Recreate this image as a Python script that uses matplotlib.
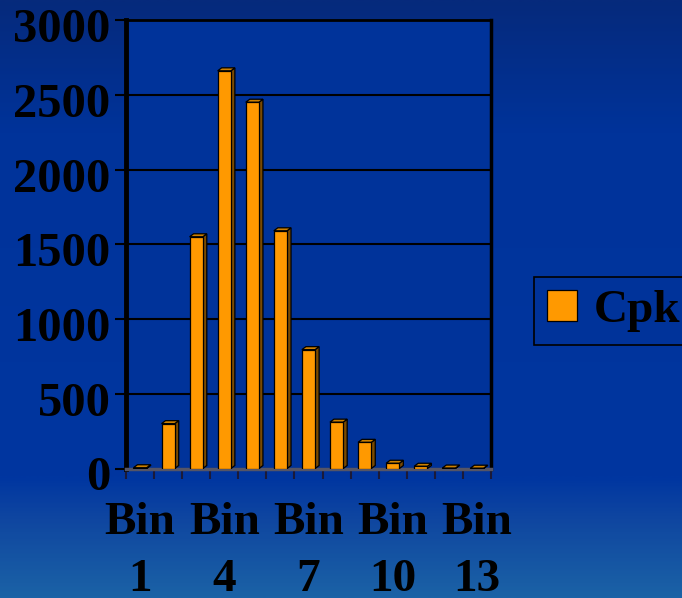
import numpy as np
import matplotlib
matplotlib.use("Agg")
import matplotlib.pyplot as plt
from matplotlib.colors import LinearSegmentedColormap
from matplotlib.patches import Polygon
from matplotlib.transforms import ScaledTranslation

# Data
categories = [f"Bin {i}" for i in range(1, 14)]
cpk_counts = [5, 300, 1550, 2660, 2450, 1590, 795, 310, 175, 35, 15, 3, 2]
y_ticks = [0, 500, 1000, 1500, 2000, 2500, 3000]
label_every = 3
series_name = "Cpk"

FRONT = "#FF9900"
TOP = "#CC8000"
SIDE = "#7A4A00"
SERIF = "Liberation Serif"

fig = plt.figure(figsize=(6.82, 5.98), dpi=100)

# Slide-style vertical gradient behind everything
bg = fig.add_axes([0, 0, 1, 1], zorder=-10)
bg_cmap = LinearSegmentedColormap.from_list(
    "slide",
    [(0.0, "#062a7c"), (0.22, "#00339a"), (0.80, "#0036a0"),
     (0.87, "#0f46a0"), (1.0, "#1b62a6")])
grad = np.linspace(0, 1, 400).reshape(-1, 1)
bg.imshow(grad, aspect="auto", cmap=bg_cmap, extent=[0, 1, 0, 1], origin="upper")
bg.set_axis_off()

ax = fig.add_axes([126 / 682, (598 - 468.5) / 598, (491 - 126) / 682, (468.5 - 20) / 598])
ax.set_facecolor("#00339a")

x = np.arange(len(categories))
width = 0.47
ax.set_xlim(-0.5, len(categories) - 0.5)
ax.set_ylim(0, 3000)

# depth of the pseudo-3D bars in data units (about 4 px right, 3 px up)
dx = 4 * (len(categories) / 365)
dy = 3 * (3000 / 448.5)

ax.set_yticks(y_ticks)
ax.yaxis.grid(True, color="black", lw=1.5, zorder=0)
ax.set_axisbelow(True)

bars = ax.bar(x, cpk_counts, width=width, color=FRONT, edgecolor="black",
              lw=0.9, zorder=3, label=series_name)
for xi, v in zip(x, cpk_counts):
    r = xi + width / 2
    l = xi - width / 2
    side = Polygon([(r, 0), (r + dx, dy), (r + dx, v + dy), (r, v)],
                   closed=True, fc=SIDE, ec="black", lw=0.9, zorder=2.9)
    top = Polygon([(l, v), (l + dx, v + dy), (r + dx, v + dy), (r, v)],
                  closed=True, fc=TOP, ec="black", lw=0.9, zorder=2.9)
    ax.add_patch(side)
    ax.add_patch(top)

# Spines: thick left wall, gray floor
ax.spines["left"].set_linewidth(3.5)
ax.spines["left"].set_color("black")
ax.spines["top"].set_linewidth(2)
ax.spines["right"].set_linewidth(2.5)
ax.spines["bottom"].set_color("#555566")
ax.spines["bottom"].set_linewidth(2.5)

# y tick labels
ax.tick_params(axis="y", direction="out", length=8, width=1.5, color="black", pad=3)
for lab in ax.get_yticklabels():
    lab.set_fontfamily(SERIF)
    lab.set_fontweight("bold")
    lab.set_fontsize(35)
    lab.set_color("black")
    lab.set_transform(lab.get_transform() + ScaledTranslation(0, -5 / 100, fig.dpi_scale_trans))

# x labels every third bin, ticks at category boundaries
label_pos = x[::label_every]
ax.set_xticks(label_pos)
ax.set_xticklabels([c.replace(" ", "\n") for c in categories[::label_every]],
                   fontfamily=SERIF, fontweight="bold", fontsize=34, color="black",
                   linespacing=1.48)
ax.set_xticks(np.arange(-0.5, len(categories), 1.0), minor=True)
ax.tick_params(axis="x", which="major", length=0, pad=24)
ax.tick_params(axis="x", which="minor", direction="out", length=7, width=1.5, color="#1a1a3a")

leg = ax.legend(loc="center left", bbox_to_anchor=(534 / 682, (598 - 311) / 598),
                bbox_transform=fig.transFigure, borderaxespad=0,
                prop={"family": SERIF, "weight": "bold", "size": 34},
                handlelength=0.62, handleheight=0.62, handletextpad=0.36,
                borderpad=0.28, fancybox=False, framealpha=1)
leg.get_frame().set_facecolor("#00339a")
leg.get_frame().set_edgecolor("black")
leg.get_frame().set_linewidth(1.2)

fig.savefig("out.png", dpi=100)
